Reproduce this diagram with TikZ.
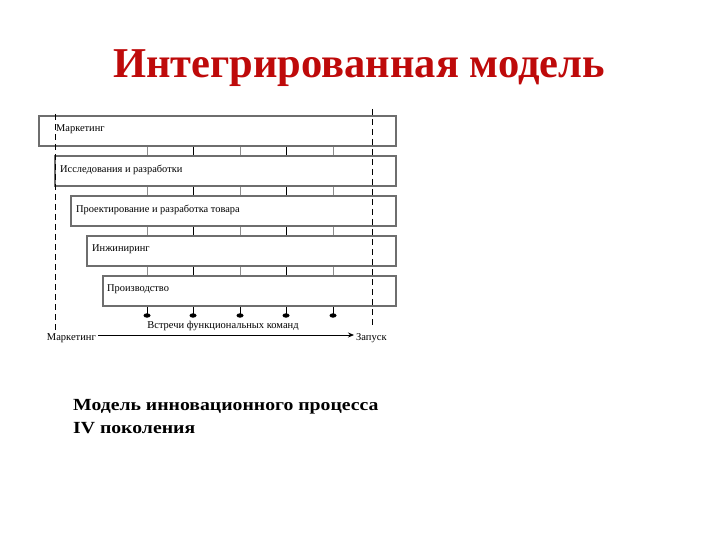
\documentclass[tikz,border=0pt]{standalone}
\usepackage{fontspec}
\setmainfont{Liberation Serif}
\newfontfamily\captionfont[FakeStretch=1.16]{Liberation Serif}
\usetikzlibrary{positioning,arrows.meta}
\definecolor{titlered}{RGB}{190,10,10}
\definecolor{barline}{RGB}{110,110,110}

\begin{document}
\begin{tikzpicture}[x=1pt, y=-1pt,
		bar/.style={draw=barline, line width=1.8pt, minimum height=30pt, anchor=north west, inner sep=0pt},
		barlabel/.style={anchor=west, inner sep=0pt, font=\fontsize{10.4}{11}\selectfont},
		smalllabel/.style={inner sep=2pt, font=\fontsize{10.5}{11}\selectfont}]
	%%%%% START %%%%%
	
	\useasboundingbox (0,0) rectangle (720,540);
	
	\node[font=\bfseries\fontsize{42.5}{48}\selectfont, text=titlered] (title) at (359,68) {Интегрированная модель};
	
	\node[bar, minimum width=357] (mkt) at (38,115) {};
	\node[bar, minimum width=341] (res) at (54,155) {};
	\node[bar, minimum width=325] (des) at (70,195) {};
	\node[bar, minimum width=309] (eng) at (86,235) {};
	\node[bar, minimum width=293] (prod) at (102,275) {};
	
	\node[barlabel] (mktlabel) at ([xshift=18pt, yshift=1.5pt]mkt.west) {Маркетинг};
	\node[barlabel] (reslabel) at ([xshift=6pt, yshift=1.5pt]res.west) {Исследования и разработки};
	\node[barlabel] (deslabel) at ([xshift=6pt, yshift=1.5pt]des.west) {Проектирование и разработка товара};
	\node[barlabel] (englabel) at ([xshift=6pt, yshift=1.5pt]eng.west) {Инжиниринг};
	\node[barlabel] (prodlabel) at ([xshift=5pt, yshift=1.5pt]prod.west) {Производство};
	
	\foreach \x/\c in {147/black!45, 193/black, 240/black!45, 286/black, 333/black!45} {
		\draw[\c, line width=1pt] (\x,0 |- mkt.south) -- (\x,0 |- res.north);
		\draw[\c, line width=1pt] (\x,0 |- res.south) -- (\x,0 |- des.north);
		\draw[\c, line width=1pt] (\x,0 |- des.south) -- (\x,0 |- eng.north);
		\draw[\c, line width=1pt] (\x,0 |- eng.south) -- (\x,0 |- prod.north);
		\draw[black, line width=1pt] (\x,0 |- prod.south) -- (\x,314);
		\fill (\x,315.5) ellipse (3.5 and 2.2);
	}
	
	\draw[dashed, dash pattern=on 6pt off 4pt, line width=0.9pt] (55,114) -- (55,332);
	\draw[dashed, dash pattern=on 6pt off 4pt, line width=0.9pt] (372,109) -- (372,326);
	
	\node[smalllabel] (meet) at (223,326) {Встречи функциональных команд};
	\node[smalllabel, anchor=east] (start) at (98,338) {Маркетинг};
	\node[smalllabel, anchor=west] (launch) at (354,338) {Запуск};
	\draw[-{Stealth[length=6pt, width=5pt]}, line width=0.8pt] (start.east |- 0,335) -- (launch.west |- 0,335);
	
	\node[anchor=north west, align=left, inner sep=0pt, font=\captionfont\bfseries\fontsize{17}{23}\selectfont] (caption) at (73,399) {Модель инновационного процесса\\IV поколения};
	
	%%%%% END %%%%%
\end{tikzpicture}
\end{document}
